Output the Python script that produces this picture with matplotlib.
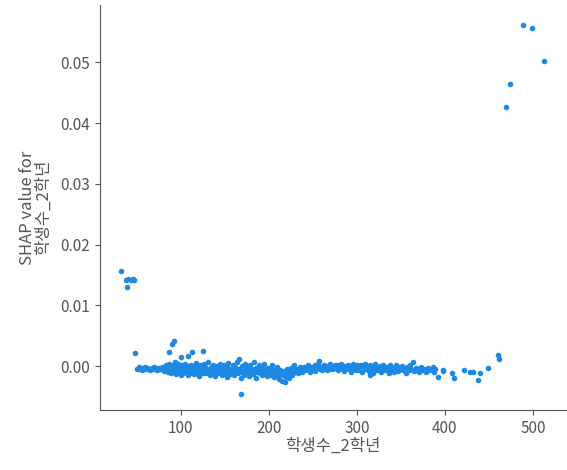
import matplotlib
matplotlib.use("Agg")
import matplotlib.pyplot as plt

plt.rcParams['font.family'] = ['Noto Sans CJK KR', 'DejaVu Sans']

feature_name = "학생수_2학년"
y_label = "SHAP value for\n학생수_2학년"

# High-value points (large schools)
high_x = [488.6, 498.9, 512.5, 474.0, 469.0]
high_y = [0.0562, 0.0556, 0.0502, 0.0464, 0.0426]

# Low-value cluster (small schools)
low_x = [31.8, 37.8, 40.5, 43.0, 45.5, 47.0, 39.0]
low_y = [0.0157, 0.0142, 0.0143, 0.0142, 0.0143, 0.0142, 0.0130]

# Scattered points above/below the main band
odd_x = [47.7, 92.0, 90.5, 86.7, 100.4, 108.3, 112.8, 125.4, 166.3, 168.6]
odd_y = [0.0021, 0.0042, 0.0036, 0.0023, 0.0015, 0.0017, 0.0023, 0.0025, 0.0011, -0.0046]

# Main band x 50-80
band_a_x = [50, 52, 53, 55, 56, 58, 59, 61, 62, 64, 65, 67, 68, 70, 71, 73, 74, 76, 77, 79]
band_a_y = [-0.0004, -0.0002, -0.0005, -0.0003, -0.0006, -0.0004, -0.0002, -0.0005, -0.0003, -0.0004,
            -0.0006, -0.0003, -0.0005, -0.0002, -0.0004, -0.0006, -0.0003, -0.0005, -0.0004, -0.0002]

# Main band x 80-200
band_b_x = list(range(80, 82)) + list(range(83, 201))
band_b_y = [-0.0003, -0.0008, 0.0001, -0.0005, -0.0010, -0.0002, 0.0004, -0.0007, -0.0012, 0.0002,
            -0.0004, -0.0009, 0.0006, -0.0001, -0.0013, -0.0006, 0.0003, -0.0010, -0.0003, -0.0015,
            0.0001, -0.0007, -0.0011, -0.0002, 0.0004, -0.0009, -0.0005, -0.0014, 0.0000, -0.0006,
            -0.0011, 0.0002, -0.0004, -0.0008, -0.0013, -0.0001, 0.0005, -0.0007, -0.0010, -0.0003,
            -0.0016, 0.0001, -0.0005, -0.0009, -0.0012, 0.0003, -0.0006, -0.0002, -0.0011, -0.0004,
            0.0006, -0.0008, -0.0014, -0.0001, -0.0006, -0.0010, 0.0002, -0.0004, -0.0017, -0.0008,
            0.0000, -0.0012, -0.0005, 0.0004, -0.0009, -0.0003, -0.0014, -0.0007, 0.0001, -0.0011,
            -0.0005, -0.0018, -0.0002, 0.0005, -0.0008, -0.0013, -0.0004, -0.0010, 0.0002, -0.0006,
            -0.0015, -0.0001, -0.0009, 0.0007, -0.0012, -0.0004, -0.0007, -0.0019, 0.0000, -0.0010,
            -0.0005, -0.0014, 0.0003, -0.0008, -0.0002, -0.0011, -0.0016, -0.0006, 0.0001, -0.0009,
            -0.0004, -0.0013, 0.0006, -0.0007, -0.0020, -0.0003, -0.0010, -0.0006, 0.0002, -0.0012,
            -0.0005, -0.0015, -0.0001, -0.0008, 0.0004, -0.0011, -0.0006, -0.0017, -0.0003, -0.0009]

# Main band x 200-235 (dip)
band_c_x = [201, 202, 203, 204, 205, 206, 207, 208, 209, 210, 211, 212, 213, 214, 215, 216, 217, 218,
            219, 220, 221, 222, 223, 224, 225, 226, 227, 228, 229, 230, 232, 233, 234, 235]
band_c_y = [-0.0009, -0.0014, -0.0005, 0.0001, -0.0011, -0.0018, -0.0007, -0.0013, -0.0002, -0.0016,
            -0.0009, -0.0021, -0.0006, -0.0012, -0.0024, -0.0015, -0.0008, -0.0026, -0.0011, -0.0018,
            -0.0005, -0.0013, -0.0020, -0.0009, -0.0003, -0.0014, -0.0007, -0.0011, 0.0001, -0.0008,
            -0.0004, -0.0012, -0.0006, -0.0002]

# Main band x 236-385
band_d_x = [237, 238, 240, 241, 243, 244, 246, 247, 249, 250, 252, 253, 255, 256, 257, 258, 260, 261,
            263, 264, 266, 267, 269, 270, 272, 273, 275, 276, 278, 279, 281, 282, 284, 285, 287, 288,
            290, 291, 293, 294, 296, 297, 299, 300, 302, 303, 305, 306, 308, 309, 311, 312, 314, 315,
            317, 318, 320, 321, 323, 324, 326, 327, 329, 330, 332, 333, 335, 336, 338, 339, 341, 342,
            344, 345, 347, 348, 350, 351, 353, 354, 356, 357, 359, 360, 362, 363.6, 365, 367, 369, 371,
            373, 375, 377, 379, 381, 383, 385, 315]
band_d_y = [-0.0005, -0.0010, -0.0001, -0.0007, -0.0003, 0.0002, -0.0006, -0.0009, -0.0002, -0.0005,
            0.0001, -0.0008, -0.0003, 0.0004, 0.0009, -0.0004, -0.0001, -0.0006, 0.0002, -0.0003,
            -0.0007, 0.0000, -0.0004, 0.0003, -0.0002, -0.0005, 0.0001, -0.0003, 0.0002, -0.0006,
            -0.0001, 0.0003, -0.0004, -0.0008, 0.0000, -0.0003, 0.0002, -0.0005, -0.0010, -0.0002,
            0.0003, -0.0004, -0.0007, 0.0001, -0.0003, -0.0006, 0.0002, -0.0009, -0.0002, 0.0004,
            -0.0005, -0.0001, -0.0008, 0.0001, -0.0004, -0.0011, -0.0002, 0.0003, -0.0006, -0.0003,
            0.0000, -0.0009, -0.0004, 0.0002, -0.0007, -0.0002, -0.0005, -0.0012, 0.0001, -0.0006,
            -0.0003, -0.0010, 0.0002, -0.0004, -0.0008, -0.0001, -0.0005, 0.0000, -0.0007, -0.0003,
            -0.0012, -0.0002, -0.0006, 0.0001, -0.0004, 0.0007, -0.0008, -0.0003, -0.0005, -0.0010,
            -0.0002, -0.0006, -0.0004, -0.0009, -0.0003, -0.0007, -0.0005, -0.0015]

# Tail x 386-462
band_e_x = [386.7, 388.5, 392.4, 398.0, 397.7, 407.6, 410.2, 422.0, 428.4, 431.5, 437.9, 439.8,
            449.2, 460.6, 461.4, 387.5]
band_e_y = [-0.0001, -0.0004, -0.0018, -0.0008, -0.0007, -0.0012, -0.0020, -0.0007, -0.0009, -0.0009,
            -0.0023, -0.0012, -0.0003, 0.0018, 0.0011, -0.0010]

xs = high_x + low_x + odd_x + band_a_x + band_b_x + band_c_x + band_d_x + band_e_x
ys = high_y + low_y + odd_y + band_a_y + band_b_y + band_c_y + band_d_y + band_e_y

txt = '#555555'
fig = plt.figure(figsize=(5.67, 4.70), dpi=100)
ax = fig.add_axes([0.176, 0.128, 0.822, 0.861])
ax.scatter(xs, ys, s=16, color="#1E88E5", linewidths=0, zorder=3)

ax.spines['top'].set_visible(False)
ax.spines['right'].set_visible(False)
for sp in ('left', 'bottom'):
    ax.spines[sp].set_color(txt)
ax.tick_params(colors=txt, labelsize=11, labelcolor=txt)
ax.set_xlim(8, 537.5)
ax.set_ylim(-0.0072, 0.0594)
ax.set_xticks([100, 200, 300, 400, 500])
ax.set_yticks([0.00, 0.01, 0.02, 0.03, 0.04, 0.05])
ax.set_yticklabels(["0.00", "0.01", "0.02", "0.03", "0.04", "0.05"])
ax.set_xlabel(feature_name, fontsize=12, color=txt, labelpad=1)
ax.set_ylabel(y_label, fontsize=12, color=txt, linespacing=0.95, labelpad=6)

fig.savefig("out.png", dpi=100)
